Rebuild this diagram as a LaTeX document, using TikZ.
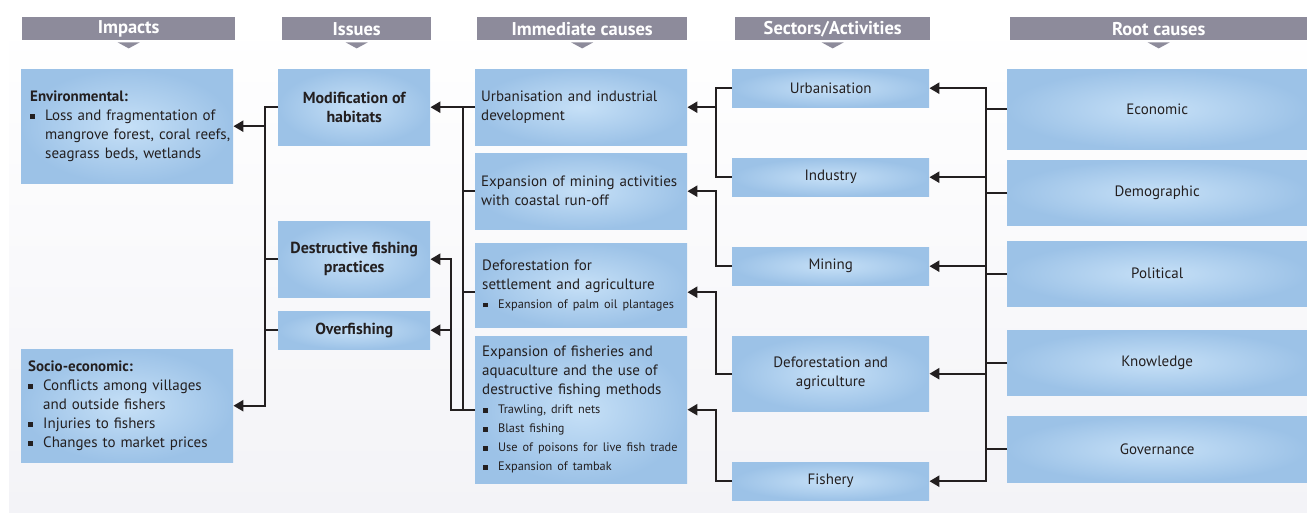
\documentclass[tikz,border=0pt]{standalone}
\usepackage{fontspec}
\setmainfont{PT Sans}
\usetikzlibrary{arrows.meta}

\definecolor{ink}{HTML}{231F20}
\definecolor{hdgray}{HTML}{8D8B9B}
\definecolor{boxlight}{HTML}{C6E0F7}
\definecolor{boxdark}{HTML}{9CC2E7}
\definecolor{panel}{HTML}{F3F3F7}

\newcommand\bodyfont{\fontsize{15}{19}\selectfont}
\newcommand\smallfont{\fontsize{12.3}{19}\selectfont}
\newcommand\bul{\makebox[15pt][l]{\rule[1.5pt]{5pt}{5pt}}}
\newcommand\bulgap{\hspace*{15pt}}
\newcommand\sbul{\makebox[16pt][l]{\hspace{1pt}\rule[1pt]{4.5pt}{4.5pt}}}

\tikzset{
  box/.style={shading=radial, inner color=boxlight, outer color=boxdark,
    anchor=north west, inner sep=0pt, text=ink, font=\bodyfont},
  issue/.style={box, minimum width=152pt, align=center,
    font=\fontsize{16}{19}\selectfont\bfseries},
  head/.style={fill=hdgray, text=white, anchor=north west, inner sep=0pt,
    minimum height=23pt, font=\fontsize{18.5}{20}\selectfont\bfseries},
  line/.style={draw=ink, line width=2.4pt},
  arr/.style={line, -{Triangle[length=10pt,width=11pt]}},
  arrs/.style={line, {Triangle[length=10pt,width=11pt]}-{Triangle[length=10pt,width=11pt]}},
}

\begin{document}
\begin{tikzpicture}[x=1pt,y=-1pt]
  \useasboundingbox (0,0) rectangle (1307,512);
  \fill[top color=white, bottom color=panel] (9,20) rectangle (1307,512);

  % column heads
  \node[head, minimum width=213pt] (hImp) at (22,17) {Impacts};
  \node[head, minimum width=149pt] (hIss) at (282,17) {Issues};
  \node[head, minimum width=210pt] (hImm) at (477,17) {Immediate causes};
  \node[head, minimum width=195pt] (hSec) at (735,17) {Sectors/Activities};
  \node[head, minimum width=297pt] (hRoot) at (1010,17) {Root causes};
  \foreach \h in {hImp,hIss,hImm,hSec,hRoot}
    \fill[hdgray] ([xshift=-11pt,yshift=-2pt]\h.south) -- ([xshift=11pt,yshift=-2pt]\h.south)
      -- ([yshift=-8pt]\h.south) -- cycle;

  % impacts
  \node[box, minimum width=212pt, minimum height=114pt, text width=194pt, align=left] (env) at (21,69)
    {\textbf{Environmental:}\\
     \mbox{\bul Loss and fragmentation of}\\
     \mbox{\bulgap mangrove forest, coral reefs,}\\
     \mbox{\bulgap seagrass beds, wetlands}};
  \node[box, minimum width=212pt, minimum height=113pt, text width=198pt, align=left] (socio) at (21,349)
    {\textbf{Socio-economic:}\\
     \mbox{\bul Conflicts among villages}\\
     \mbox{\bulgap and outside fishers}\\
     \mbox{\bul Injuries to fishers}\\
     \mbox{\bul Changes to market prices}};

  % issues
  \node[issue, minimum height=76pt] (imod) at (278,69) {Modification of\\habitats};
  \node[issue, minimum height=76pt] (idest) at (278,221) {Destructive fishing\\practices};
  \node[issue, minimum height=38pt] (iover) at (278,311) {Overfishing};

  % immediate causes
  \node[box, minimum width=212pt, minimum height=76pt, text width=200pt, align=left] (curb) at (475,69)
    {Urbanisation and industrial\\development};
  \node[box, minimum width=212pt, minimum height=76pt, text width=200pt, align=left] (cmin) at (475,153)
    {Expansion of mining activities\\with coastal run-off};
  \node[box, minimum width=212pt, minimum height=84pt, text width=198pt, align=left] (cdef) at (475,243)
    {Deforestation for\\settlement and agriculture\\
     \mbox{\smallfont\sbul Expansion of palm oil plantages}};
  \node[box, minimum width=212pt, minimum height=147pt, text width=198pt, align=left] (cfish) at (475,336)
    {Expansion of fisheries and\\aquaculture and the use of\\destructive fishing methods\\
     \mbox{\smallfont\sbul Trawling, drift nets}\\
     \mbox{\smallfont\sbul Blast fishing}\\
     \mbox{\smallfont\sbul Use of poisons for live fish trade}\\
     \mbox{\smallfont\sbul Expansion of tambak}};

  % sectors
  \node[box, minimum width=197pt, minimum height=38pt] (surb) at (732,69) {Urbanisation};
  \node[box, minimum width=197pt, minimum height=38pt] (sind) at (732,158) {Industry};
  \node[box, minimum width=197pt, minimum height=38pt] (smin) at (732,247) {Mining};
  \node[box, minimum width=197pt, minimum height=75pt, align=center] (sdef) at (732,336)
    {Deforestation and\\agriculture};
  \node[box, minimum width=197pt, minimum height=38pt] (sfish) at (732,462) {Fishery};

  % root causes
  \node[box, minimum width=300pt, minimum height=80pt] (econ) at (1007,69) {Economic};
  \node[box, minimum width=300pt, minimum height=65pt] (demo) at (1007,160) {Demographic};
  \node[box, minimum width=300pt, minimum height=65pt] (poli) at (1007,241) {Political};
  \node[box, minimum width=300pt, minimum height=65pt] (know) at (1007,330) {Knowledge};
  \node[box, minimum width=300pt, minimum height=66pt] (gov) at (1007,416) {Governance};

  % bus lines
  \coordinate (rb) at (986,0);
  \coordinate (sb) at (716,0);
  \coordinate (cb1) at (463,0);
  \coordinate (cb2) at (451,0);
  \coordinate (ib) at (265,0);

  % root causes -> sectors
  \draw[arrs] (surb.east) -| (sfish.east -| rb) -- (sfish.east);
  \foreach \n in {econ,demo,poli,know,gov}
    \draw[line] (\n.west) -- (\n.west -| rb);
  \foreach \n in {sind,smin,sdef}
    \draw[arr] (\n.east -| rb) -- (\n.east);

  % sectors -> immediate causes
  \draw[line] (surb.west) -| (sind.west -| sb) -- (sind.west);
  \draw[arr] (curb.east -| sb) -- (curb.east);
  \draw[arr] (smin.west) -| (cmin.east -| sb) -- (cmin.east);
  \draw[arr] (sdef.west) -| ([yshift=-7pt]cdef.east -| sb) -- ([yshift=-7pt]cdef.east);
  \draw[arr] (sfish.west) -| (cfish.east -| sb) -- (cfish.east);

  % immediate causes -> issues
  \draw[arr] (curb.west) -- (imod.east);
  \draw[line] (cfish.west) -| (curb.west -| cb1);
  \draw[line] (cmin.west) -- (cmin.west -| cb1);
  \draw[line] ([yshift=-7pt]cdef.west) -- ([yshift=-7pt]cdef.west -| cb1);
  \draw[arr] (cfish.west) -| (idest.east -| cb2) -- (idest.east);
  \draw[arr] (iover.east -| cb2) -- (iover.east);

  % issues -> impacts
  \draw[arr] (imod.west) -| (socio.east -| ib) -- (socio.east);
  \draw[line] (idest.west) -- (idest.west -| ib);
  \draw[line] (iover.west) -- (iover.west -| ib);
  \draw[arr] (env.east -| ib) -- (env.east);
\end{tikzpicture}
\end{document}
